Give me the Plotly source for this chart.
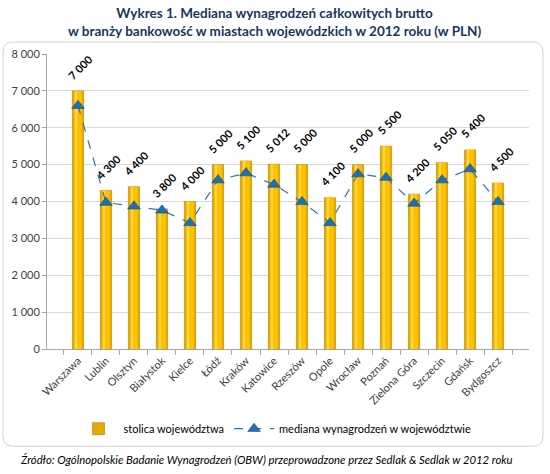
import plotly.graph_objects as go

cities = ["Warszawa", "Lublin", "Olsztyn", "Białystok", "Kielce", "Łódź", "Kraków",
          "Katowice", "Rzeszów", "Opole", "Wrocław", "Poznań", "Zielona Góra",
          "Szczecin", "Gdańsk", "Bydgoszcz"]
capital_salary = [7000, 4300, 4400, 3800, 4000, 5000, 5100, 5012, 5000, 4100,
                  5000, 5500, 4200, 5050, 5400, 4500]
region_median = [6600, 3970, 3870, 3760, 3420, 4580, 4770, 4460, 3990, 3420,
                 4745, 4650, 3945, 4580, 4880, 3990]
y_ticks = [0, 1000, 2000, 3000, 4000, 5000, 6000, 7000, 8000]
y_tick_labels = ["0", "1 000", "2 000", "3 000", "4 000", "5 000", "6 000", "7 000", "8 000"]

FONT = "Lato"


def fmt(v):
    return f"{v:,}".replace(",", " ")


fig = go.Figure()

# cylinder look: darker outer bar + lighter inner bar + thin highlight
fig.add_trace(go.Bar(
    x=cities, y=capital_salary, width=0.4,
    marker=dict(color="#E3AA00", line=dict(color="#B08400", width=0.6)),
    name="stolica województwa", hoverinfo="skip",
))
fig.add_trace(go.Bar(
    x=cities, y=capital_salary, width=0.28,
    marker=dict(color="#FFC000", line=dict(width=0)),
    showlegend=False, hoverinfo="skip",
))
fig.add_trace(go.Bar(
    x=cities, y=capital_salary, width=0.06, offset=-0.1,
    marker=dict(color="#FFD84D", line=dict(width=0)),
    showlegend=False, hoverinfo="skip",
))

fig.add_trace(go.Scatter(
    x=cities, y=region_median, mode="lines+markers",
    name="mediana wynagrodzeń w województwie",
    line=dict(color="#2E75B6", width=1.2, dash="dash"),
    marker=dict(symbol="triangle-up", size=11, color="#1F6FB4",
                line=dict(color="#14507F", width=0.6)),
))

# rounded frame around the chart (paper coords)
x0, x1, y0, y1 = -0.0913, 1.029, -0.3295, 1.0407
rx, ry = 0.0207, 0.034
frame_path = (f"M {x0+rx},{y1} L {x1-rx},{y1} Q {x1},{y1} {x1},{y1-ry} "
              f"L {x1},{y0+ry} Q {x1},{y0} {x1-rx},{y0} L {x0+rx},{y0} "
              f"Q {x0},{y0} {x0},{y0+ry} L {x0},{y1-ry} Q {x0},{y1} {x0+rx},{y1} Z")

fig.update_layout(
    width=550, height=474,
    margin=dict(l=47, r=21, t=54, b=125),
    paper_bgcolor="white", plot_bgcolor="white",
    barmode="overlay",
    xaxis=dict(
        type="category", tickangle=-45, ticks="outside", tickson="boundaries",
        ticklen=5, tickcolor="#A6A6A6", linecolor="#A6A6A6", showline=True,
        showgrid=False, tickfont=dict(family=FONT, size=11, color="#404040"),
    ),
    yaxis=dict(
        range=[0, 8000], tickvals=y_ticks, ticktext=y_tick_labels,
        ticks="outside", ticklen=4,
        tickcolor="#A6A6A6", linecolor="#A6A6A6", showline=True,
        gridcolor="#D9D9D9", zeroline=False,
        tickfont=dict(family=FONT, size=11, color="#404040"),
    ),
    legend=dict(
        orientation="h", x=0.473, xanchor="center", y=-0.27, yanchor="middle",
        font=dict(family=FONT, size=11, color="#000000"), bgcolor="rgba(0,0,0,0)",
        itemwidth=40, tracegroupgap=0,
    ),
    shapes=[dict(type="path", path=frame_path, xref="paper", yref="paper",
                 line=dict(color="#D0D0D0", width=1), layer="below")],
)

# value labels above the bars, slanted like in the source
for c, v in zip(cities, capital_salary):
    fig.add_annotation(
        x=c, y=v, text=fmt(v), textangle=-45, showarrow=False,
        yshift=24, xshift=3,
        font=dict(family=FONT, size=11, color="#000000", weight="bold"),
    )

fig.add_annotation(
    x=0.473, y=1.173, xref="paper", yref="paper", showarrow=False,
    text="Wykres 1. Mediana wynagrodzeń całkowitych brutto<br>"
         "w branży bankowość w miastach wojewódzkich w 2012 roku (w PLN)",
    font=dict(family=FONT, size=13.5, color="#17375E", weight="bold"),
    xanchor="center", yanchor="top",
)
fig.add_annotation(
    x=0.455, y=-0.375, xref="paper", yref="paper", showarrow=False,
    text="Źródło: Ogólnopolskie Badanie Wynagrodzeń (OBW) przeprowadzone przez Sedlak & Sedlak w 2012 roku",
    font=dict(family=FONT, size=11.3, color="#000000", style="italic"),
    xanchor="center", yanchor="middle",
)

# the browser adds an 8px body margin by default; drop it so the chart sits at 0,0
fig.write_html("out.html", config={"displayModeBar": False},
               post_script="document.body.style.margin='0';")
